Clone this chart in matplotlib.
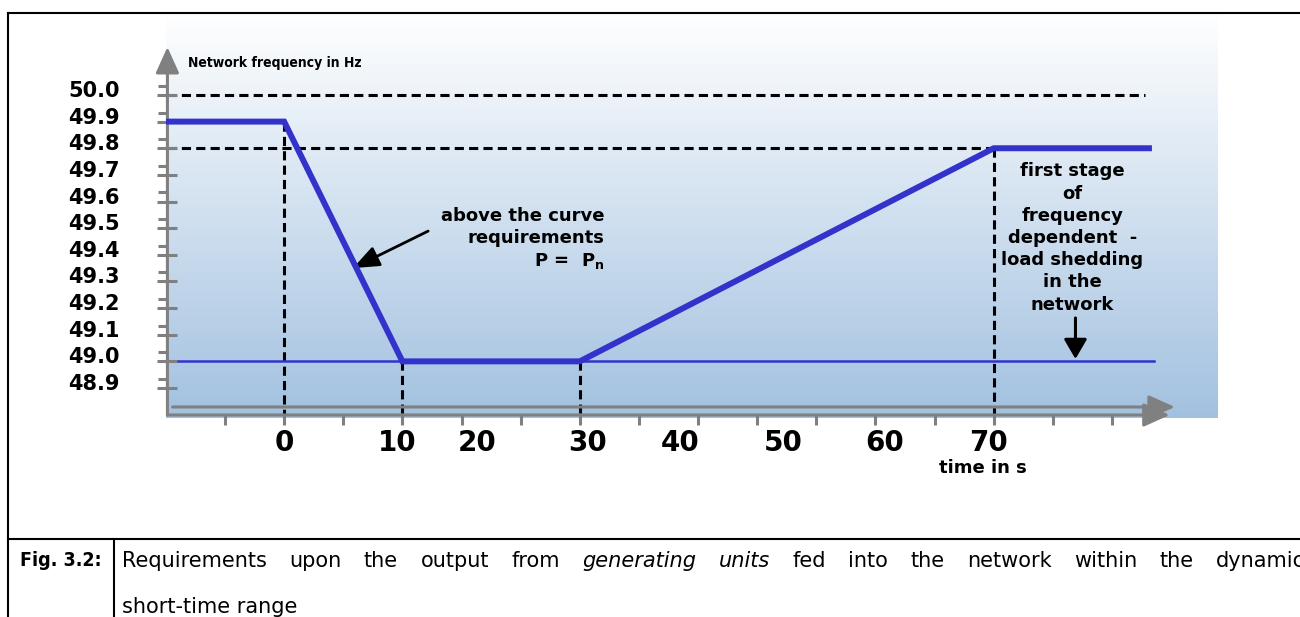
import numpy as np
import matplotlib
matplotlib.use('Agg')
import matplotlib.pyplot as plt
from matplotlib.colors import LinearSegmentedColormap
from matplotlib.lines import Line2D
from matplotlib.transforms import ScaledTranslation, blended_transform_factory

# frequency course after a disturbance (time in s, frequency in Hz)
curve_t = [-9.9, 0, 10, 30, 70, 85]
curve_f = [49.9, 49.9, 49.0, 49.0, 49.8, 49.8]

# first stage of frequency dependent load shedding
shed_f = 49.0
shed_t = [-9.0, 85.5]

# dashed reference levels and where their dashes end
ref_f = [50.0, 49.8]
ref_t_end = [84.6, 70]

# dashed drop lines from the corners of the curve to the time axis
drop_t = [0, 10, 30, 70]
drop_f = [49.9, 49.0, 49.0, 49.8]

freq_ticks = [48.9, 49.0, 49.1, 49.2, 49.3, 49.4, 49.5, 49.6, 49.7, 49.8, 49.9, 50.0]
freq_labels = ['48.9', '49.0', '49.1', '49.2', '49.3', '49.4', '49.5', '49.6',
               '49.7', '49.8', '49.9', '50.0']
time_ticks = [0, 10, 20, 30, 40, 50, 60, 70]
time_labels = ['0', '10', '20', '30', '40', '50', '60', '70']

caption_words = [('Requirements', 'normal'), ('upon', 'normal'), ('the', 'normal'),
                 ('output', 'normal'), ('from', 'normal'), ('generating', 'italic'),
                 ('units', 'italic'), ('fed', 'normal'), ('into', 'normal'),
                 ('the', 'normal'), ('network', 'normal'), ('within', 'normal'),
                 ('the', 'normal'), ('dynamic', 'normal')]

# the time axis of the drawing is not to scale: the curve corners sit on
# evenly spaced grey marks (0 s -> mark 1, 10 s -> 3, 30 s -> 6, 70 s -> 13)
knot_t = [-20, 0, 10, 30, 70, 120]
knot_mark = [-3, 1, 3, 6, 13, 21.75]


def fwd(t):
    return np.interp(t, knot_t, knot_mark)


def inv(m):
    return np.interp(m, knot_mark, knot_t)


GREY = '#808080'
BLUE = '#3333cc'
AXIS_T0 = -9.87      # where the vertical axis stands
F_LOW = 48.7987      # lower grey line of the time axis
F_UP = 48.8287       # upper grey line of the time axis

fig = plt.figure(figsize=(13, 6.17), dpi=100)
box = [166 / 1300, 1 - 418 / 617, (1218 - 166) / 1300, (418 - 13) / 617]

# gradient background
bg = fig.add_axes(box, zorder=0)
cmap = LinearSegmentedColormap.from_list('bg', ['#ffffff', '#a2c1e0'])
bg.imshow(np.linspace(0, 1, 256)[:, None], aspect='auto', cmap=cmap,
          extent=(0, 1, 0, 1), origin='upper')
bg.axis('off')

ax = fig.add_axes(box, zorder=1)
ax.set_facecolor('none')
ax.set_xscale('function', functions=(fwd, inv))
ax.set_xlim(inv(-0.998), inv(16.793))
ax.set_ylim(48.7874, 50.3077)

for side in ['top', 'right', 'left', 'bottom']:
    ax.spines[side].set_visible(False)
ax.spines['left'].set_position(('axes', 0.0014))
ax.spines['bottom'].set_position(('axes', 3 / 405))

# axis lines with arrow heads
head = dict(color=GREY, lw=2.2, shrinkA=0, shrinkB=0, mutation_scale=20,
            arrowstyle='-|>,head_length=0.8,head_width=0.36')
ax.annotate('', xy=(AXIS_T0, 50.18), xytext=(AXIS_T0, F_LOW), arrowprops=head)
ax.annotate('', xy=(87.0, F_LOW), xytext=(AXIS_T0, F_LOW), arrowprops=head)
ax.annotate('', xy=(87.5, F_UP), xytext=(-9.43, F_UP), arrowprops=head)

# y ticks: one long mark on the value, a short one just above
ax.set_yticks(freq_ticks)
ax.set_yticklabels(freq_labels, fontsize=15, fontweight='bold')
ax.set_yticks([f + 0.034 for f in freq_ticks], minor=True)
ax.tick_params(axis='y', which='major', direction='inout', length=14.4,
               width=2.2, color=GREY, pad=27)
ax.tick_params(axis='y', which='minor', direction='out', length=6.5,
               width=2.2, color=GREY)
lift = ScaledTranslation(0, 0.06, fig.dpi_scale_trans)
for lab in ax.get_yticklabels():
    lab.set_transform(lab.get_transform() + lift)

# x ticks: grey marks evenly spaced, labels at the times
ax.xaxis.remove_overlapping_locs = False
ax.set_xticks(time_ticks)
ax.set_xticklabels(time_labels, fontsize=20, fontweight='bold')
ax.set_xticks(inv(np.arange(16)), minor=True)
ax.tick_params(axis='x', which='major', length=0, pad=10)
ax.tick_params(axis='x', which='minor', direction='out', length=7.2,
               width=2.2, color=GREY)
label_shift_px = {'10': -5, '20': -14, '30': 8, '40': -3, '50': -4, '60': -6, '70': -5}
for lab in ax.get_xticklabels():
    dx = label_shift_px.get(lab.get_text(), 0) / 100
    lab.set_transform(lab.get_transform() + ScaledTranslation(dx, 0, fig.dpi_scale_trans))

# dashed helper lines
dash = dict(color='black', lw=2.2, linestyle=(0, (3, 1.7)), zorder=1)
for f, t_end in zip(ref_f, ref_t_end):
    ax.plot([AXIS_T0, t_end], [f, f], **dash)
for t, f in zip(drop_t, drop_f):
    ax.plot([t, t], [f, F_LOW], **dash)

# load shedding level and the frequency course
ax.plot(shed_t, [shed_f, shed_f], color=BLUE, lw=1.8, zorder=3)
ax.plot(curve_t, curve_f, color=BLUE, lw=4.3, zorder=4,
        solid_joinstyle='miter')

# texts
ax.text(0.0209, 0.8765, 'Network frequency in Hz', transform=ax.transAxes,
        ha='left', va='center', fontsize=10, fontweight='bold',
        fontstretch='condensed')
ax.text(32.4, 49.459, 'above the curve\nrequirements\n' + r'P =  $\mathbf{P}_\mathbf{n}$',
        ha='right', va='center', multialignment='right', fontsize=13,
        fontweight='bold', linespacing=1.3)
ax.annotate('', xy=(5.82, 49.35), xytext=(12.9, 49.489),
            arrowprops=dict(color='black', lw=2, shrinkA=0, shrinkB=0,
                            mutation_scale=20,
                            arrowstyle='-|>,head_length=0.8,head_width=0.32'))
ax.text(77.6, 49.463, 'first stage\nof\nfrequency\ndependent  -\nload shedding\nin the\nnetwork',
        ha='center', va='center', multialignment='center', fontsize=13,
        fontweight='bold', linespacing=1.3)
ax.annotate('', xy=(77.9, 49.009), xytext=(77.9, 49.163),
            arrowprops=dict(color='black', lw=2.2, shrinkA=0, shrinkB=0,
                            mutation_scale=20,
                            arrowstyle='-|>,head_length=0.6,head_width=0.35'))
ax.text(69, -0.1235, 'time in s', transform=blended_transform_factory(ax.transData, ax.transAxes),
        ha='center', va='center', fontsize=13, fontweight='bold')

# table frame and caption
frame = dict(color='black', lw=1.5, transform=fig.transFigure)
fig.add_artist(Line2D([8 / 1300, 1], [1 - 13 / 617] * 2, **frame))
fig.add_artist(Line2D([8 / 1300] * 2, [0, 1 - 13 / 617], **frame))
fig.add_artist(Line2D([8 / 1300, 1], [1 - 539 / 617] * 2, **frame))
fig.add_artist(Line2D([114 / 1300] * 2, [0, 1 - 539 / 617], **frame))

fig.text(20 / 1300, 1 - 561 / 617, 'Fig. 3.2:', fontsize=14, fontweight='bold',
         fontstretch='condensed', va='center')

# first caption line is justified: spread the words from 122 px to the right margin
renderer = fig.canvas.get_renderer()
words = [fig.text(0, 1 - 561 / 617, w, fontsize=15, style=s, va='center')
         for w, s in caption_words]
widths = [w.get_window_extent(renderer).width for w in words]
gap = (1305 - 122 - sum(widths)) / (len(words) - 1)
x = 122
for w, width in zip(words, widths):
    w.set_x(x / 1300)
    x += width + gap
fig.text(122 / 1300, 1 - 607 / 617, 'short-time range', fontsize=15, va='center')

fig.savefig('out.png', dpi=100)
